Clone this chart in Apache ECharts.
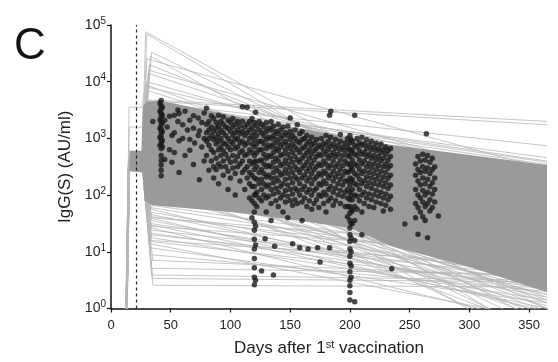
<!DOCTYPE html>
<html><head><meta charset="utf-8">
<script src="https://cdn.jsdelivr.net/npm/echarts@6/dist/echarts.min.js"></script>
<style>html,body{margin:0;padding:0;background:#fff}#c{width:558px;height:362px}</style>
</head><body><div id="c"></div>
<script>
// ---------- data (days, log10 AU/ml) ----------
const xTicks = [0, 50, 100, 150, 200, 250, 300, 350];
const yTicks = [1, 10, 100, 1000, 10000, 100000];
const boostDay = 21;

// outline of the dense grey mass of overlapping model trajectories
const bandTop = [[15.5,2.78],[25.5,2.78],[26.5,3.55],[30,3.65],[41,3.67],[125,3.3],[234,2.89],[365,2.53]];
const bandBottom = [[365,0.29],[300,0.73],[235,1.1],[200,1.42],[150,1.57],[100,1.7],[35,1.82],[28,1.9],[26.5,2.4],[15.5,2.42]];

// individual trajectories: [riseDay, preLog, kneeDay, responseDay, responseLog, day365Log]
const upperTraj = [
  [12.8,2.6,26,29,4.88,0.98],[13.2,2.55,26.5,30,4.84,0.65],[13.5,2.7,27,34,4.52,1.1],
  [12.6,2.5,27,33,4.45,0.6],[13.0,2.65,26,32,4.3,1.5],[13.4,2.6,26.5,31,4.15,1.8],
  [12.9,2.55,26,30,4.0,2.0],[13.1,3.55,26,29,3.95,1.3],[12.7,2.6,27,31,3.9,2.3],
  [13.3,3.2,26.5,30,3.85,1.6],[13.0,2.62,26,30,4.4,2.45],[13.2,2.58,26.5,32,4.2,2.2],
  [13.0,2.6,26,32,3.68,3.30],[13.2,2.55,26.5,31,3.66,3.24],[12.8,2.65,27,33,3.62,2.87],
  [13.4,2.5,26,30,3.6,2.66],[12.6,2.6,26.5,32,3.55,2.54],[13.1,2.58,27,31,3.64,2.6],
  [13.5,2.52,26,30,3.6,2.58]
];
const midTraj = [
  [13.0,2.5,26,32,3.2,-0.8],[13.5,2.6,26.5,33,2.9,-0.5],[12.7,2.55,26,32,2.6,-0.6],
  [13.2,2.45,27,34,2.4,-0.2],[12.9,2.5,26,33,2.2,-0.4],[13.4,2.58,26.5,32,3.0,-0.2],
  [13.1,2.52,27,33,2.7,0.0],[12.6,2.48,26,34,2.5,0.2],[13.3,2.56,26.5,33,2.3,0.1],
  [12.8,2.5,27,32,2.1,-0.1],[13.6,2.6,26,33,3.4,-0.3],[13.0,2.54,26.5,34,2.8,0.35],
  [13.2,2.5,26,33,3.3,0.0],[12.7,2.46,27,32,2.0,0.25],[13.5,2.55,26,34,2.6,0.15],
  [12.9,2.6,26.5,33,3.5,-0.6],[13.1,2.5,26,33,2.45,-0.05],[12.8,2.55,26.5,32,2.95,0.1],
  [13.3,2.5,27,34,2.15,0.3],[13.0,2.58,26,33,3.1,-0.4]
];
const lowerTraj = [
  [12.4,2.5,26,35,0.41,0.38],[13.0,2.55,26.5,35,0.53,0.47],[13.5,2.45,27,34,0.59,0.5],
  [12.8,2.6,26,34,0.71,0.6],[13.2,2.5,27,33,1.07,0.1],[12.6,2.55,26,33,1.14,-0.2],
  [13.4,2.48,26.5,34,1.25,0.15],[12.9,2.52,27,33,1.33,0.35],[13.1,2.58,26,34,1.42,-0.3],
  [13.6,2.46,26.5,33,1.5,0.45],[12.7,2.6,27,34,1.59,-0.05],[13.3,2.5,26,33,1.66,0.25],
  [13.0,2.55,27,34,1.75,0.05],[12.5,2.62,26.5,33,1.2,0.75],[13.5,2.44,26,34,1.38,0.62],
  [12.8,2.56,27,33,1.7,0.5],[13.2,2.5,26,34,1.82,0.85],[12.6,2.58,26.5,33,1.45,0.95],
  [13.4,2.5,27,34,1.6,1.05],[12.9,2.52,26,33,0.95,0.3],[13.1,2.48,26.5,35,0.85,0.55],
  [13.0,2.52,26,33,1.78,0.7],[12.7,2.57,26.5,34,1.55,0.2],[13.3,2.49,27,33,1.3,0.55],
  [12.9,2.6,26,34,1.62,0.8],[13.2,2.53,26.5,33,1.48,0.0],[13.4,2.47,27,34,1.18,0.4]
];

// measured IgG(S): [day, [log10 values]]
const scatterCols = [
  [35,[3.3]],
  [41,[3.62,3.48,3.33,3.18,3.02,2.88]],
  [42,[3.67,3.58,3.52,3.44,3.38,3.3,3.24,3.16,3.1,3.04,2.97,2.9,2.82,2.7,2.61,2.53,2.44,2.34]],
  [43,[3.55,3.41,3.27,3.12,2.96,2.85]],
  [45,[3.32,2.63]],[47,[3.2]],[49,[3.39,2.8]],[51,[2.58,3.05]],[53,[3.41,3.1,2.75]],
  [56,[3.3,3.5]],[57,[3.44,2.96,2.4]],[60,[3.24,3.0]],[62,[3.48,2.7]],[64,[3.15]],
  [66,[3.32,2.98,2.79]],[69,[3.18,2.54,3.4]],[70,[2.92]],[73,[3.36,3.05]],[74,[3.13,2.27]],
  [76,[3.28,2.85]],[78,[3.45,3.0,2.6]],
  [80,[3.53,3.25,3.1,2.95,2.7]],[82,[3.3,3.15,2.88,2.44,3.0]],[84,[3.4,3.2,3.05,2.8,2.6]],
  [86,[3.35,3.12,2.98,2.75,2.5,2.3]],[88,[3.28,3.18,3.02,2.9,2.65,2.45]],
  [90,[3.41,3.22,3.08,2.95,2.8,2.55,2.2]],[92,[3.3,3.15,3.0,2.85,2.7,2.5]],
  [94,[3.38,3.25,3.1,2.92,2.78,2.6,2.35]],[96,[3.2,3.05,2.9,2.72,2.5]],
  [98,[3.32,3.18,3.0,2.85,2.65,2.42,2.1]],[100,[3.28,3.12,2.95,2.8,2.58,2.3]],
  [102,[3.35,3.2,3.05,2.9,2.7,2.48]],[104,[3.25,3.1,2.98,2.82,2.6,2.38,2.0]],
  [106,[3.3,3.15,3.0,2.85,2.68,2.5]],[108,[3.22,3.08,2.92,2.75,2.55,2.25]],
  [110,[3.56,3.3,3.12,2.95,2.78,2.6,2.4]],[112,[3.2,3.05,2.88,2.7,2.45,2.1]],
  [114,[3.55,3.25,3.1,2.92,2.72,2.5,2.3]],
  [116,[3.3,3.15,3.0,2.8,2.6,2.4,2.2,1.95]],
  [118,[3.35,3.2,3.05,2.9,2.75,2.55,2.35,2.15,1.9,1.6]],
  [120,[3.28,3.12,2.98,2.85,2.7,2.58,2.45,2.3,2.15,2.0,1.85,1.7,1.52,1.38,1.22,1.05,0.88,0.72,0.55,0.42]],
  [121,[3.46,2.6,2.0,1.45,1.12,0.5]],
  [122,[3.22,3.05,2.9,2.75,2.5,2.28,2.05,1.8]],
  [124,[3.3,3.15,2.95,2.8,2.6,2.4,2.2,1.95]],
  [126,[3.25,3.1,2.95,2.8,2.62,2.45,2.28,2.1,1.9,0.66]],
  [128,[3.2,3.05,2.9,2.72,2.55,2.38,2.2,2.0]],
  [129,[1.23]],
  [130,[3.28,3.12,2.98,2.82,2.65,2.5,2.32,2.15,1.95,1.7]],
  [132,[3.18,3.02,2.88,2.7,2.52,2.35,2.18,1.98]],
  [134,[3.3,3.15,3.0,2.85,2.68,2.5,2.3,2.1,1.85,1.55]],
  [136,[3.22,3.05,2.9,2.75,2.58,2.4,2.22,2.02,0.59]],
  [137,[1.1]],
  [138,[3.12,2.98,2.82,2.65,2.48,2.3,2.12,1.9]],
  [140,[3.25,3.08,2.92,2.78,2.6,2.42,2.25,2.05,1.8]],
  [142,[3.15,3.0,2.85,2.7,2.52,2.35,2.15,1.95]],
  [144,[3.2,3.05,2.9,2.72,2.55,2.38,2.2,2.0,1.7]],
  [146,[3.1,2.95,2.8,2.62,2.45,2.28,2.08,1.88]],
  [148,[3.22,3.05,2.88,2.72,2.55,2.38,2.18,1.98,1.6]],
  [150,[3.36,3.12,2.98,2.82,2.65,2.48,2.3,2.1,1.9]],
  [152,[3.05,2.9,2.75,2.58,2.4,2.22,2.02,1.82,1.14]],
  [154,[3.15,3.0,2.85,2.68,2.5,2.32,2.12,1.92]],
  [156,[3.24,2.95,2.8,2.62,2.45,2.28,2.08,1.85]],
  [158,[3.08,2.92,2.75,2.58,2.4,2.2,2.0,1.07]],
  [160,[3.12,2.98,2.82,2.65,2.48,2.3,2.1,1.88,1.55]],
  [162,[3.0,2.85,2.7,2.52,2.35,2.15,1.95]],
  [164,[3.05,2.9,2.75,2.58,2.42,2.25,2.05,1.8]],
  [165,[1.05]],
  [166,[2.95,2.8,2.65,2.48,2.3,2.1,1.9]],
  [168,[3.02,2.88,2.72,2.55,2.38,2.2,2.0,1.75]],
  [170,[2.92,2.78,2.62,2.45,2.28,2.08,1.85]],
  [172,[2.98,2.82,2.68,2.5,2.32,2.12,1.92]],
  [173,[1.07]],
  [174,[2.88,2.72,2.55,2.38,2.2,2.0,1.78]],
  [175,[0.82]],
  [176,[3.0,2.85,2.7,2.52,2.35,2.18,1.98]],
  [178,[2.92,2.78,2.6,2.42,2.25,2.05,1.85]],
  [180,[3.05,2.88,2.72,2.55,2.38,2.2,2.0,1.7]],
  [182,[2.95,2.8,2.65,2.48,2.3,2.1,1.9]],
  [183,[3.41,1.07]],[184,[3.48,3.02,2.86,2.7,2.52,2.35,2.15,1.95]],
  [186,[2.9,2.75,2.6,2.42,2.25,2.05,1.82]],
  [188,[2.98,2.82,2.68,2.5,2.32,2.12,1.9]],
  [190,[2.88,2.72,2.55,2.38,2.2,2.0]],
  [192,[3.07,2.95,2.8,2.62,2.45,2.28,2.08,1.85]],
  [194,[2.85,2.7,2.52,2.35,2.18,1.98]],
  [196,[2.92,2.78,2.6,2.42,2.25,2.05,1.8]],
  [198,[3.0,2.85,2.7,2.55,2.4,2.25,2.1,1.95,1.8,1.62]],
  [200,[3.05,2.92,2.8,2.68,2.55,2.42,2.3,2.18,2.05,1.92,1.8,1.68,1.55,1.42,1.3,1.18,1.05,0.92,0.8,0.65,0.5,0.4,0.28,0.15]],
  [201,[2.98,2.75,2.5,2.25,2.0,1.75,1.5,1.25,1.0,0.75,0.55]],
  [202,[2.95,2.8,2.62,2.45,2.28,2.1,1.92,1.72,1.5]],
  [204,[3.41,2.88,2.72,2.55,2.38,2.2,2.0,1.8,1.55,1.2,0.12]],
  [206,[3.0,2.85,2.7,2.52,2.35,2.18,1.98,1.75]],
  [208,[2.92,2.78,2.62,2.45,2.28,2.1,1.9]],
  [210,[3.02,2.88,2.72,2.55,2.38,2.2,2.0,1.7,1.3]],
  [212,[2.9,2.75,2.6,2.42,2.25,2.05,1.85]],
  [214,[2.98,2.82,2.68,2.5,2.32,2.15,1.95]],
  [216,[2.88,2.72,2.56,2.4,2.22,2.02,1.8]],
  [218,[2.95,2.8,2.65,2.48,2.3,2.12,1.92]],
  [220,[2.85,2.7,2.55,2.38,2.2,2.0,1.78]],
  [222,[2.92,2.78,2.62,2.45,2.28,2.08,1.88]],
  [224,[2.82,2.68,2.52,2.35,2.18,1.98]],
  [226,[2.9,2.75,2.6,2.42,2.25,2.05,1.85]],
  [228,[2.8,2.65,2.5,2.32,2.15,1.95,1.72]],
  [230,[2.85,2.72,2.55,2.4,2.22,2.02,1.82]],
  [232,[2.78,2.62,2.48,2.3,2.12,1.92]],
  [234,[2.82,2.68,2.52,2.35,2.18,1.98,1.75]],
  [235,[0.7]],[246,[1.49]],
  [255,[2.55,2.35,2.1,1.85,1.6]],[257,[2.68,2.45,2.25,2.0,1.78,1.31]],
  [259,[2.6,2.4,2.18,1.95,1.7]],[261,[2.72,2.5,2.3,2.08,1.88,1.62]],
  [263,[2.62,2.42,2.2,2.0,1.8,1.55]],[264,[3.08]],[265,[2.7,2.48,2.28,2.05,1.85,1.25]],
  [267,[2.58,2.38,2.15,1.92,1.72]],[269,[2.65,2.45,2.22,2.02,1.78]],
  [271,[2.5,2.3,2.1,1.88]],[274,[1.63]]
];

// ---------- build ----------
const FONT = '"Liberation Sans", Arial, sans-serif';
const p10 = v => Math.pow(10, v);
function trajPoints(r) {
  return [[r[0] - 0.5, -0.6], [r[0] + 2, r[1]], [r[2], r[1]], [r[3], r[4]], [365, r[5]]]
    .map(p => [p[0], p10(p[1])]);
}
const lineSeries = upperTraj.concat(midTraj, lowerTraj).map(r => ({
  type: 'line', data: trajPoints(r), showSymbol: false, silent: true, clip: true,
  lineStyle: { color: '#b8b8b8', width: 0.8 }, z: 1, animation: false
}));
const scatterData = [];
scatterCols.forEach(c => c[1].forEach(v => scatterData.push([c[0], p10(v)])));

const chart = echarts.init(document.getElementById('c'), null, { renderer: 'canvas' });
chart.setOption({
  animation: false,
  backgroundColor: '#fff',
  grid: { left: 111, right: 11, top: 25, bottom: 48 },
  graphic: [{ type: 'text', left: 14, top: 25, style: { text: 'C', font: '44px ' + FONT, fill: '#111' } }],
  xAxis: {
    type: 'value', min: 0, max: 365,
    axisLine: { lineStyle: { color: '#111', width: 1.5 } },
    axisTick: { length: 4, customValues: xTicks, lineStyle: { color: '#111', width: 1.2 } },
    axisLabel: { customValues: xTicks, fontSize: 13, color: '#222', margin: 10, fontFamily: FONT },
    splitLine: { show: false },
    name: 'Days after 1{sup|st} vaccination', nameLocation: 'middle', nameGap: 31,
    nameTextStyle: { fontSize: 17, color: '#222', fontFamily: FONT,
      rich: { sup: { fontSize: 11, verticalAlign: 'top', fontFamily: FONT, color: '#222', padding: [0, 0, 7, 0] } } }
  },
  yAxis: {
    type: 'log', logBase: 10, min: 1, max: 100000,
    axisLine: { show: true, lineStyle: { color: '#111', width: 1.5 } },
    axisTick: { show: true, length: 4, lineStyle: { color: '#111', width: 1.2 } },
    axisLabel: {
      fontSize: 14, color: '#222', margin: 5, fontFamily: FONT,
      formatter: v => '10{sup|' + Math.round(Math.log10(v)) + '}',
      rich: { sup: { fontSize: 10, fontFamily: FONT, color: '#222', padding: [0, 0, 8, 0] } }
    },
    splitLine: { show: false }, minorTick: { show: false },
    name: 'IgG(S) (AU/ml)', nameLocation: 'middle', nameGap: 34, nameRotate: 90,
    nameTextStyle: { fontSize: 17, color: '#222', fontFamily: FONT }
  },
  series: lineSeries.concat([
    {
      type: 'custom', z: 2, silent: true, clip: true,
      data: [[100, 100]],
      renderItem: function (params, api) {
        if (params.dataIndex !== 0) return;
        const pts = bandTop.concat(bandBottom).map(p => api.coord([p[0], p10(p[1])]));
        return { type: 'polygon', shape: { points: pts }, style: { fill: '#9a9a9a' } };
      }
    },
    {
      type: 'scatter', z: 3, data: scatterData, symbolSize: 5.5, silent: true,
      itemStyle: { color: '#1a1a1a', opacity: 0.8 },
      markLine: {
        silent: true, symbol: ['none', 'none'], label: { show: false },
        lineStyle: { color: '#222', type: [3, 3], width: 1.2 },
        data: [{ xAxis: boostDay }]
      }
    }
  ])
});
</script></body></html>
